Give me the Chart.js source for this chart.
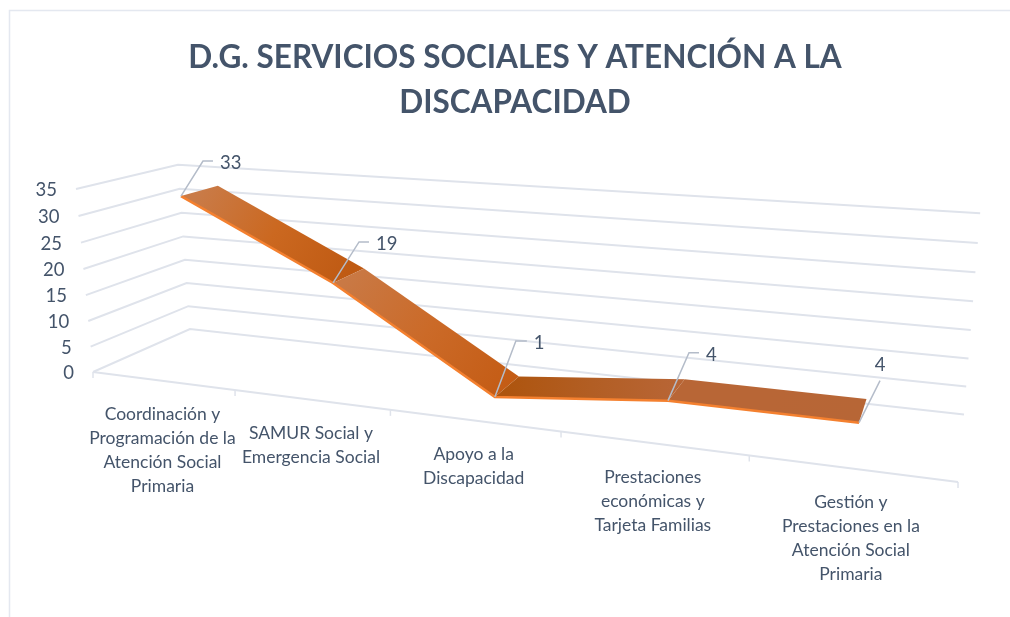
<!DOCTYPE html>
<html>
<head>
<meta charset="utf-8">
<style>
html, body { margin: 0; padding: 0; background: #fff; overflow: hidden; }
canvas { display: block; }
</style>
<script src="https://cdn.jsdelivr.net/npm/chart.js@4"></script>
</head>
<body>
<canvas id="chart" width="1010" height="617"></canvas>
<script>
var titleLines = ['D.G. SERVICIOS SOCIALES Y ATENCIÓN A LA', 'DISCAPACIDAD'];

var categoryLines = [
    ['Coordinación y', 'Programación de la', 'Atención Social', 'Primaria'],
    ['SAMUR Social y', 'Emergencia Social'],
    ['Apoyo a la', 'Discapacidad'],
    ['Prestaciones', 'económicas y', 'Tarjeta Familias'],
    ['Gestión y', 'Prestaciones en la', 'Atención Social', 'Primaria']
];

var values = [33, 19, 1, 4, 4];
var valueTicks = [0, 5, 10, 15, 20, 25, 30, 35];

var textColor = '#44546a';
var gridColor = '#dfe3eb';
var leaderColor = '#b4bcc9';
var fontName = 'Lato';

// front and back edge of the ribbon, as depth into the 3D box (0 front wall, 1 back wall)
var ribbonFront = 0.313;
var ribbonBack = 0.70;

// shading of each ribbon segment from start to end
var segmentShades = [
    ['#c97b48', '#cb6820', '#bf5a13'],
    ['#c97945', '#cb6a28', '#c45c15'],
    ['#ae550f', '#b25e24', '#b86535'],
    ['#b86636', '#b86636', '#b76636']
];

// leader line of each data label, relative to its point: elbow and horizontal tail
var leaders = [
    { dx: 22, dy: -35, tail: 10 },
    { dx: 26, dy: -41, tail: 10 },
    { dx: 21, dy: -56, tail: 11 },
    { dx: 21, dy: -48, tail: 10 },
    { dx: 21, dy: -42, tail: 0 }
];

// projection of the 3D box on the page, u along categories, v up the values, d into depth
function project(u, v, d) {
    var w = 1 - 0.214 * u - 0.035 * v + 0.1192 * d;
    return {
        x: (93 + 660 * u - 19.66 * v + 119.6 * d) / w,
        y: (372 + 6.9 * u - 189.6 * v - 3.8 * d) / w
    };
}

function axisU(chart, xPixel) {
    var area = chart.chartArea;
    return (xPixel - area.left) / (area.right - area.left);
}

function axisV(chart, yPixel) {
    var area = chart.chartArea;
    return (area.bottom - yPixel) / (area.bottom - area.top);
}

function strokePath(ctx, pts, color, width) {
    ctx.beginPath();
    pts.forEach(function (p, i) {
        if (i === 0) ctx.moveTo(p.x, p.y);
        else ctx.lineTo(p.x, p.y);
    });
    ctx.strokeStyle = color;
    ctx.lineWidth = width;
    ctx.stroke();
}

var box3d = {
    id: 'box3d',

    // the scales give flat pixels, move the points into the 3D box
    afterDatasetsUpdate: function (chart) {
        chart.data.datasets.forEach(function (ds, i) {
            chart.getDatasetMeta(i).data.forEach(function (pt) {
                var p = project(axisU(chart, pt.x), axisV(chart, pt.y), ds.depth);
                pt.x = p.x;
                pt.y = p.y;
            });
        });
    },

    beforeDatasetsDraw: function (chart) {
        var ctx = chart.ctx;
        var xScale = chart.scales.x;
        var yScale = chart.scales.y;

        ctx.save();

        // outer frame of the chart
        strokePath(ctx, [{ x: 9.5, y: chart.height }, { x: 9.5, y: 10.5 }, { x: chart.width, y: 10.5 }], '#e4e8f0', 1.5);

        // walls
        yScale.ticks.forEach(function (tick) {
            var v = axisV(chart, yScale.getPixelForValue(tick.value));
            strokePath(ctx, [project(0, v, 0), project(0, v, 1), project(1, v, 1)], gridColor, 2);
        });

        // front edge of the floor with its tick marks
        strokePath(ctx, [project(0, 0, 0), project(1, 0, 0)], gridColor, 2);
        for (var i = 0; i <= categoryLines.length; i++) {
            var base = project(axisU(chart, xScale.getPixelForValue(i - 0.5)), 0, 0);
            strokePath(ctx, [base, { x: base.x, y: base.y + 6 }], gridColor, 1.5);
        }

        // ribbon faces between the two edges
        var front = chart.getDatasetMeta(0).data;
        var back = chart.getDatasetMeta(1).data;
        for (var s = 0; s < front.length - 1; s++) {
            var grad = ctx.createLinearGradient(
                (front[s].x + back[s].x) / 2, (front[s].y + back[s].y) / 2,
                (front[s + 1].x + back[s + 1].x) / 2, (front[s + 1].y + back[s + 1].y) / 2
            );
            grad.addColorStop(0, segmentShades[s][0]);
            grad.addColorStop(0.5, segmentShades[s][1]);
            grad.addColorStop(1, segmentShades[s][2]);
            ctx.beginPath();
            ctx.moveTo(front[s].x, front[s].y);
            ctx.lineTo(front[s + 1].x, front[s + 1].y);
            ctx.lineTo(back[s + 1].x, back[s + 1].y);
            ctx.lineTo(back[s].x, back[s].y);
            ctx.closePath();
            ctx.fillStyle = grad;
            ctx.fill();
        }

        ctx.restore();
    },

    afterDatasetsDraw: function (chart) {
        var ctx = chart.ctx;
        var xScale = chart.scales.x;
        var yScale = chart.scales.y;

        ctx.save();
        ctx.fillStyle = textColor;

        // value axis labels
        ctx.font = '18.5px ' + fontName;
        ctx.textAlign = 'right';
        ctx.textBaseline = 'middle';
        yScale.ticks.forEach(function (tick) {
            var p = project(0, axisV(chart, yScale.getPixelForValue(tick.value)), 0);
            ctx.fillText(String(tick.value), p.x - 19, p.y + 1);
        });

        // category labels
        ctx.font = '17.5px ' + fontName;
        ctx.textAlign = 'center';
        categoryLines.forEach(function (lines, i) {
            var p = project(axisU(chart, xScale.getPixelForValue(i)), 0, 0);
            lines.forEach(function (line, n) {
                ctx.fillText(line, p.x, p.y + 34 + n * 24);
            });
        });

        // data labels with leader lines
        ctx.font = '18.5px ' + fontName;
        chart.getDatasetMeta(0).data.forEach(function (pt, i) {
            var l = leaders[i];
            var elbow = { x: pt.x + l.dx, y: pt.y + l.dy };
            if (l.tail) {
                strokePath(ctx, [pt, elbow, { x: elbow.x + l.tail, y: elbow.y }], leaderColor, 1.5);
                ctx.textAlign = 'left';
                ctx.fillText(String(values[i]), elbow.x + l.tail + 7, elbow.y + 2);
            } else {
                strokePath(ctx, [pt, elbow], leaderColor, 1.5);
                ctx.textAlign = 'center';
                ctx.fillText(String(values[i]), elbow.x, elbow.y - 16);
            }
        });

        ctx.restore();
    }
};

var ctx = document.getElementById('chart').getContext('2d');
var chart = new Chart(ctx, {
    type: 'line',
    data: {
        labels: categoryLines.map(function (lines) { return lines.join(' '); }),
        datasets: [
            { label: 'front', data: values, depth: ribbonFront, borderColor: '#f4802f', borderWidth: 2.5, pointRadius: 0, clip: false },
            { label: 'back', data: values, depth: ribbonBack, borderColor: 'rgba(0,0,0,0)', borderWidth: 0, pointRadius: 0, clip: false }
        ]
    },
    options: {
        responsive: false,
        animation: false,
        layout: { padding: { left: 20 } },
        scales: {
            x: { display: false, offset: true },
            y: {
                display: false,
                min: 0,
                max: valueTicks[valueTicks.length - 1],
                afterBuildTicks: function (scale) {
                    scale.ticks = valueTicks.map(function (v) { return { value: v }; });
                }
            }
        },
        plugins: {
            legend: { display: false },
            tooltip: { enabled: false },
            title: {
                display: true,
                text: titleLines,
                color: textColor,
                font: { family: fontName, size: 31.5, weight: 'bold', lineHeight: 1.43 },
                padding: { top: 35, bottom: 10 }
            }
        }
    },
    plugins: [box3d]
});
</script>
</body>
</html>
